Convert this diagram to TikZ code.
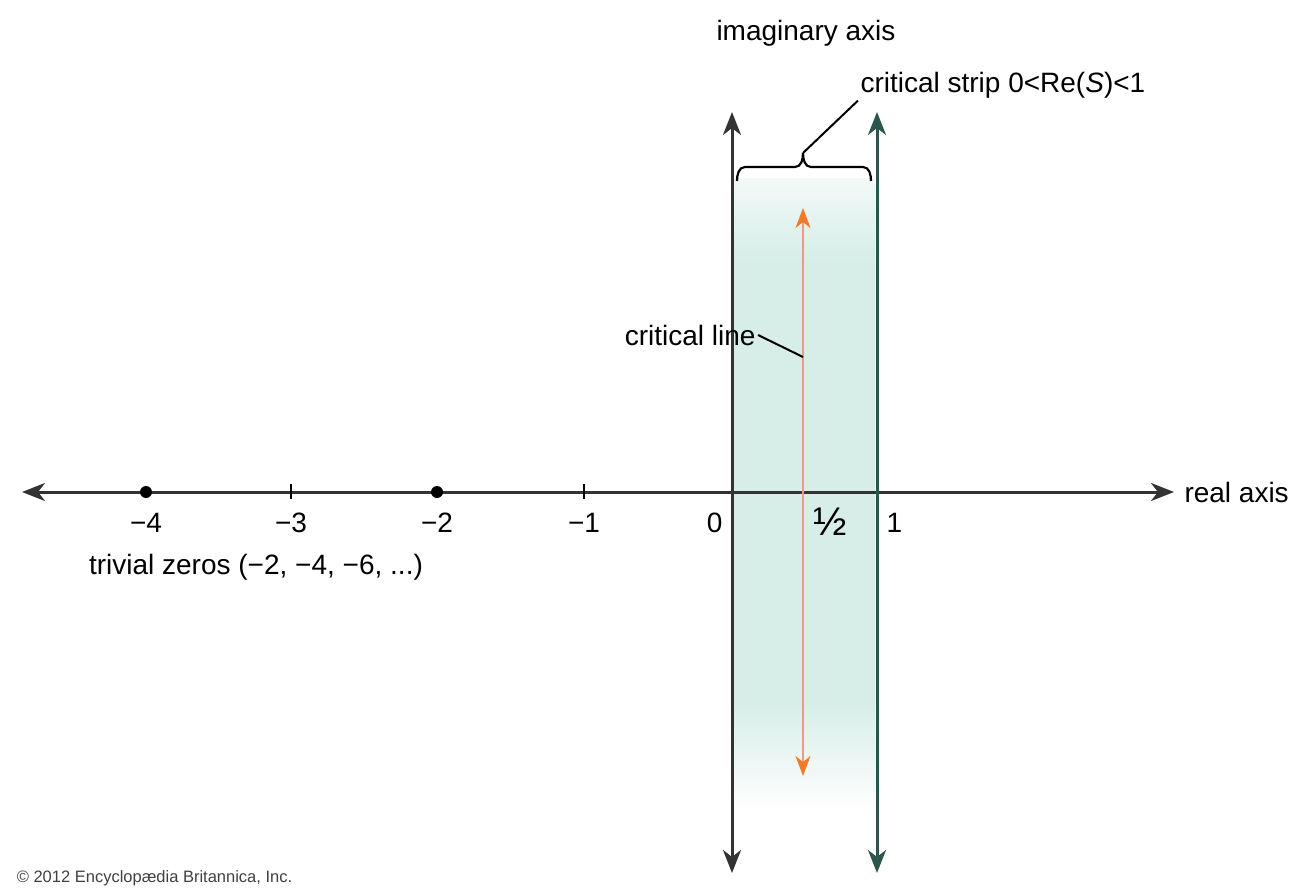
\documentclass[tikz,border=0pt]{standalone}
\usepackage{fontspec}
\setmainfont{Liberation Sans}
\usetikzlibrary{positioning, calc, arrows.meta}
\definecolor{striscia}{HTML}{D6EDE8}
\definecolor{asseimm}{HTML}{333333}
\definecolor{assedx}{HTML}{2C5550}
\definecolor{salmone}{HTML}{EA9A86}
\definecolor{arancio}{HTML}{F07C2A}
\tikzset{
    frecce/.style={{Stealth[length=23pt,width=18pt,inset=7pt]}-{Stealth[length=23pt,width=18pt,inset=7pt]}},
    testo/.style={font=\fontsize{28}{32}\selectfont, inner sep=1pt, text=black},
    zero/.style={circle, fill=black, inner sep=0pt, minimum size=12pt},
}

\begin{document}
\begin{tikzpicture}[x=1pt, y=-1pt, line width=3pt]
        \useasboundingbox (0,0) rectangle (1304,888);
        %striscia critica
        \shade[top color=striscia!30, bottom color=striscia] (733,178) rectangle (875,262);
        \fill[striscia] (733,261) rectangle (875,700);
        \shade[top color=striscia, bottom color=white] (733,699) rectangle (875,812);
        %disegno asse reale
        \coordinate (sx) at (22,492);
        \coordinate (dx) at (1174,492);
        \draw[frecce, color=asseimm] (sx) -- (dx) node[testo, right=8pt] (reale) {real axis};
        %zeri banali e tacche
        \node[zero] (m4) at (146,492) {};
        \node[zero] (m2) at (437,492) {};
        \draw[line width=2pt] (291,484) -- (291,499);
        \draw[line width=2pt] (584,484) -- (584,499);
        \node[testo] (lm4) at (146,523) {−4};
        \node[testo] (lm3) at (291,523) {−3};
        \node[testo] (lm2) at (437,523) {−2};
        \node[testo] (lm1) at (584,523) {−1};
        \node[testo, anchor=east] (l0) at (725,523) {0};
        \node[testo, font=\fontsize{40}{44}\selectfont] (lmezzo) at (830,522) {½};
        \node[testo, anchor=west] (l1) at (884,523) {1};
        \node[testo] (banali) at (256,567) {trivial zeros (−2, −4, −6, ...)};
        %disegno assi verticali
        \coordinate (a0) at (732,112);
        \coordinate (b0) at (732,873);
        \coordinate (a1) at (877,112);
        \coordinate (b1) at (877,873);
        \draw[frecce, color=asseimm] (b0) -- (a0);
        \draw[frecce, color=assedx] (b1) -- (a1);
        \node[testo] (immag) at (806,33) {imaginary axis};
        %retta critica
        \coordinate (rc1) at (803,208);
        \coordinate (rc2) at (803,776);
        \draw[line width=2.2pt, color=salmone,
              {Stealth[length=20pt,width=15pt,inset=6pt,color=arancio]}-{Stealth[length=20pt,width=15pt,inset=6pt,color=arancio]}]
              (rc2) -- (rc1);
        \node[testo, anchor=east] (linea) at (758,335) {critical line};
        \coordinate (pl) at (803,357);
        \draw[line width=2pt] (linea.east) -- (pl);
        %graffa
        \coordinate (graffa) at (803,153);
        \draw[line width=2.2pt] (737,181) to[out=90,in=180] (745,167) -- (795,167) to[out=0,in=-90] (graffa);
        \draw[line width=2.2pt] (graffa) to[out=-90,in=180] (811,167) -- (863,167) to[out=0,in=90] (871,181);
        \node[testo, anchor=west] (strip) at (858,85) {critical strip 0<Re(\textit{S})<1};
        \draw[line width=2pt] (graffa) -- (strip.south west);
        %crediti
        \node[anchor=west, font=\fontsize{16.5}{19}\selectfont, text=black!75] (crediti) at (12,878) {© 2012 Encyclopædia Britannica, Inc.};
    \end{tikzpicture}
\end{document}
